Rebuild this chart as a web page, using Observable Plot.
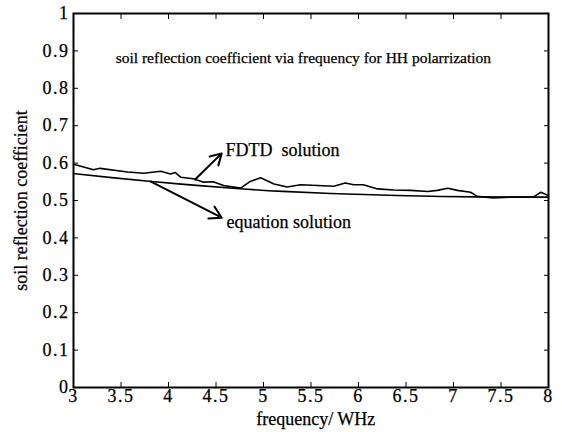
<!DOCTYPE html>
<html>
<head>
<meta charset="utf-8">
<script src="https://cdn.jsdelivr.net/npm/d3@7"></script>
<script src="https://cdn.jsdelivr.net/npm/@observablehq/plot@0.6"></script>
<style>
  html, body { margin: 0; padding: 0; background: #fff; }
  #chart svg { display: block; }
  #chart svg text { font-family: "Times New Roman", "Liberation Serif", Times, serif !important; stroke: #000; stroke-width: 0.25px; }
  .ticklab text { letter-spacing: 1.5px; }
</style>
</head>
<body>
<div id="chart"></div>
<script>
const fdtdFreq = [3.00, 3.04, 3.21, 3.28, 3.57, 3.74, 3.92, 4.02, 4.07, 4.13, 4.26, 4.37, 4.47, 4.58, 4.76, 4.86, 4.97, 5.11, 5.25, 5.39, 5.57, 5.74, 5.86, 5.95, 6.05, 6.20, 6.37, 6.55, 6.73, 6.83, 6.94, 7.04, 7.18, 7.25, 7.42, 7.60, 7.84, 7.92, 8.00];
const fdtdValue = [0.597, 0.594, 0.582, 0.586, 0.576, 0.573, 0.578, 0.571, 0.575, 0.562, 0.558, 0.549, 0.550, 0.540, 0.533, 0.551, 0.561, 0.544, 0.536, 0.542, 0.540, 0.538, 0.547, 0.542, 0.542, 0.531, 0.528, 0.527, 0.524, 0.527, 0.533, 0.527, 0.522, 0.511, 0.507, 0.509, 0.509, 0.522, 0.513];
const eqFreq = [3.00, 3.40, 3.81, 4.30, 4.75, 5.20, 5.67, 6.37, 7.25, 8.00];
const eqValue = [0.572, 0.561, 0.551, 0.540, 0.531, 0.524, 0.519, 0.513, 0.509, 0.509];
const xTicks = [3, 3.5, 4, 4.5, 5, 5.5, 6, 6.5, 7, 7.5, 8];
const yTicks = [0, 0.1, 0.2, 0.3, 0.4, 0.5, 0.6, 0.7, 0.8, 0.9, 1];
const titleText = "soil reflection coefficient via frequency for HH polarrization";
const xLabel = "frequency/ WHz";
const yLabel = "soil reflection coefficient";
const annotations = [
  {label: "FDTD\u00a0 solution", x1: 4.28, y1: 0.556, x2: 4.56, y2: 0.626, tx: 4.60, ty: 0.634},
  {label: "equation solution", x1: 3.81, y1: 0.551, x2: 4.56, y2: 0.454, tx: 4.61, ty: 0.441}
];

const fdtd = fdtdFreq.map((f, i) => ({f, v: fdtdValue[i]}));
const eq = eqFreq.map((f, i) => ({f, v: eqValue[i]}));
const font = "Times New Roman, Liberation Serif, serif";

const chart = Plot.plot({
  width: 562,
  height: 432,
  marginLeft: 73,
  marginRight: 14,
  marginTop: 13,
  marginBottom: 45,
  style: {fontFamily: font, fontSize: "18px", color: "#000", background: "#fff"},
  x: {domain: [3, 8]},
  y: {domain: [0, 1]},
  marks: [
    Plot.frame({stroke: "#000", strokeWidth: 2}),
    Plot.axisX({ticks: xTicks, tickSize: -5, tickPadding: 7, tickFormat: d => String(d), fontSize: 18, label: null, className: "ticklab"}),
    Plot.axisX({anchor: "top", ticks: xTicks, tickSize: -5, tickFormat: () => "", label: null}),
    Plot.axisY({ticks: yTicks, tickSize: -5, tickPadding: 9, tickFormat: d => String(d), fontSize: 18, label: null, className: "ticklab"}),
    Plot.axisY({anchor: "right", ticks: yTicks, tickSize: -5, tickFormat: () => "", label: null}),
    Plot.line(fdtd, {x: "f", y: "v", stroke: "#000", strokeWidth: 1.6}),
    Plot.line(eq, {x: "f", y: "v", stroke: "#000", strokeWidth: 1.6, curve: "basis"}),
    Plot.arrow(annotations, {x1: "x1", y1: "y1", x2: "x2", y2: "y2", stroke: "#000", strokeWidth: 2, headLength: 10}),
    Plot.text(annotations, {x: "tx", y: "ty", text: "label", textAnchor: "start", fontSize: 18, fill: "#000"}),
    Plot.text([titleText], {x: 5.42, y: 0.882, text: d => d, fontSize: 15.5, fill: "#000"}),
    Plot.text([xLabel], {x: 5.55, y: 0, dy: 32, text: d => d, fontSize: 18, fill: "#000"}),
    Plot.text([yLabel], {x: 3, y: 0.5, dx: -52, text: d => d, fontSize: 18, rotate: -90, fill: "#000"})
  ]
});
document.getElementById("chart").appendChild(chart);
</script>
</body>
</html>
